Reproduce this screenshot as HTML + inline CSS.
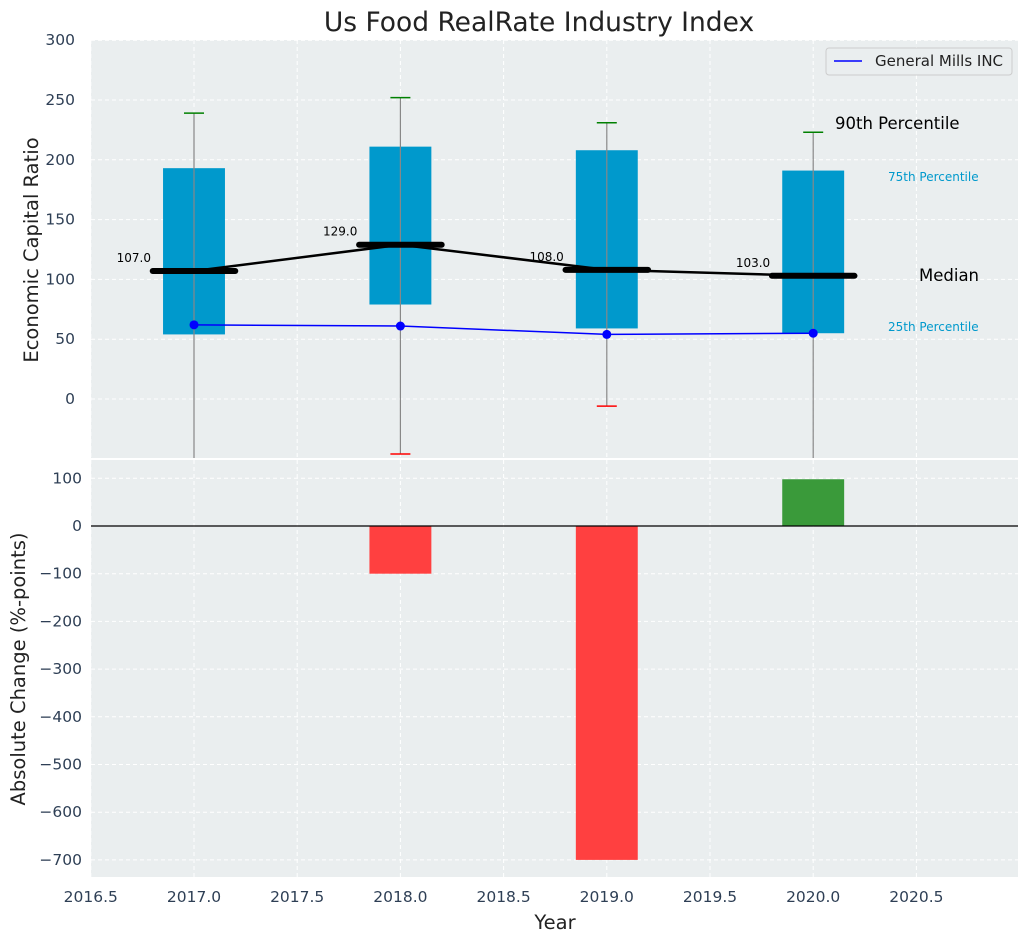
<!DOCTYPE html>
<html><head><meta charset="utf-8"><style>
body{margin:0;background:#fff;font-family:"DejaVu Sans","Liberation Sans",sans-serif}
svg text{font-family:"DejaVu Sans","Liberation Sans",sans-serif}
</style></head><body>
<svg id="c" width="1029" height="942" xmlns="http://www.w3.org/2000/svg"></svg>
<script>
const years=[2017,2018,2019,2020];
const q25=[54,79,59,55];
const q75=[193,211,208,191];
const p90=[239,252,231,223];
const p10=[-80,-46,-6,-80];
const medians=[107,129,108,103];
const company=[62,61,54,55];
const changes=[0,-100,-700,98];
const topTicks=[0,50,100,150,200,250,300];
const botTicks=[100,0,-100,-200,-300,-400,-500,-600,-700];
const xTicks=[2016.5,2017,2017.5,2018,2018.5,2019,2019.5,2020,2020.5];

const L=91,R=1018;
const X=v=>194+(v-2017)*206.4;
const YT=v=>399-v*1.196;
const YB=v=>526-v*0.477;
const svg=document.getElementById('c');
const NS='http://www.w3.org/2000/svg';
function el(t,a,name,txt){const e=document.createElementNS(NS,t);for(const k in a)e.setAttribute(k,a[k]);


if(txt!==undefined)e.textContent=txt;svg.appendChild(e);return e;}
el('rect',{x:L,y:40,width:R-L,height:418,fill:'#eaeeef'},'top-plot-area');
el('rect',{x:L,y:460,width:R-L,height:417,fill:'#eaeeef'},'bottom-plot-area');
xTicks.forEach(t=>{const x=X(t);
el('line',{x1:x,x2:x,y1:40,y2:458,stroke:'#fff','stroke-dasharray':'4,3','stroke-width':1},'x-grid');
el('line',{x1:x,x2:x,y1:460,y2:877,stroke:'#fff','stroke-dasharray':'4,3','stroke-width':1},'x-grid');
el('text',{x:x,y:902,'text-anchor':'middle','font-size':15.5,fill:'#2e3f55'},'x-tick-label',t.toFixed(1));});
topTicks.forEach(t=>{const y=YT(t);
el('line',{x1:L,x2:R,y1:y,y2:y,stroke:'#fff','stroke-dasharray':'4,3'},'y-grid');
el('text',{x:75,y:y+5,'text-anchor':'end','font-size':15.5,fill:'#2e3f55'},'y-tick-label',t);});
botTicks.forEach(t=>{const y=YB(t);
el('line',{x1:L,x2:R,y1:y,y2:y,stroke:'#fff','stroke-dasharray':'4,3'},'y-grid');
el('text',{x:82,y:y+5,'text-anchor':'end','font-size':15.5,fill:'#2e3f55'},'y-tick-label',String(t).replace('-','−'));});
const hw=0.15*206.4;
years.forEach((yr,i)=>{const x=X(yr);
el('rect',{x:x-hw,y:YT(q75[i]),width:2*hw,height:YT(q25[i])-YT(q75[i]),fill:'#0099cc'},'iqr-box');
el('line',{x1:x,x2:x,y1:YT(p90[i]),y2:Math.min(458,YT(p10[i])),stroke:'#888','stroke-width':1.2},'whisker');
el('line',{x1:x-10,x2:x+10,y1:YT(p90[i]),y2:YT(p90[i]),stroke:'green','stroke-width':1.5},'p90-cap');
if(YT(p10[i])<458)el('line',{x1:x-10,x2:x+10,y1:YT(p10[i]),y2:YT(p10[i]),stroke:'red','stroke-width':1.5},'p10-cap');
el('line',{x1:x-0.2*206.4,x2:x+0.2*206.4,y1:YT(medians[i]),y2:YT(medians[i]),stroke:'#000','stroke-width':6,'stroke-linecap':'round'},'median-bar');
el('text',{x:x-43,y:YT(medians[i])-9,'text-anchor':'end','font-size':12,fill:'#000'},'median-label',medians[i].toFixed(1));
});
el('polyline',{points:years.map((y,i)=>X(y)+','+YT(medians[i])).join(' '),fill:'none',stroke:'#000','stroke-width':2.5},'median-line');
el('polyline',{points:years.map((y,i)=>X(y)+','+YT(company[i])).join(' '),fill:'none',stroke:'blue','stroke-width':1.5},'company-line');
years.forEach((y,i)=>el('circle',{cx:X(y),cy:YT(company[i]),r:4.5,fill:'blue'},'company-point'));
el('text',{x:835,y:129,'font-size':16.5,fill:'#000'},'p90-annotation','90th Percentile');
el('text',{x:888,y:181,'font-size':12,fill:'#0099cc'},'p75-annotation','75th Percentile');
el('text',{x:919,y:281,'font-size':16.5,fill:'#000'},'median-annotation','Median');
el('text',{x:888,y:331,'font-size':12,fill:'#0099cc'},'p25-annotation','25th Percentile');
years.forEach((yr,i)=>{if(!changes[i])return;const x=X(yr);const v=changes[i];
el('rect',{x:x-hw,y:Math.min(YB(0),YB(v)),width:2*hw,height:Math.abs(YB(v)-YB(0)),fill:v<0?'#ff4040':'#3a9a3a'},'change-bar');});
el('line',{x1:L,x2:R,y1:YB(0),y2:YB(0),stroke:'#000','stroke-width':1.2},'zero-line');
el('rect',{x:826,y:48,width:186,height:27,fill:'#eaeeef',stroke:'#ccc',rx:3},'legend');
el('line',{x1:834,x2:862,y1:61,y2:61,stroke:'blue','stroke-width':1.5},'legend-line');
el('text',{x:875,y:66,'font-size':15,fill:'#222'},'legend-label','General Mills INC');
el('text',{x:539,y:31,'text-anchor':'middle','font-size':26.5,fill:'#222'},'chart-title','Us Food RealRate Industry Index');
el('text',{x:555,y:929,'text-anchor':'middle','font-size':19.5,fill:'#222'},'x-axis-title','Year');
el('text',{x:38,y:250,'text-anchor':'middle','font-size':19.5,fill:'#222',transform:'rotate(-90 38 250)'},'top-y-axis-title','Economic Capital Ratio');
el('text',{x:25,y:669,'text-anchor':'middle','font-size':19.5,fill:'#222',transform:'rotate(-90 25 669)'},'bottom-y-axis-title','Absolute Change (%-points)');
</script>
</body></html>
